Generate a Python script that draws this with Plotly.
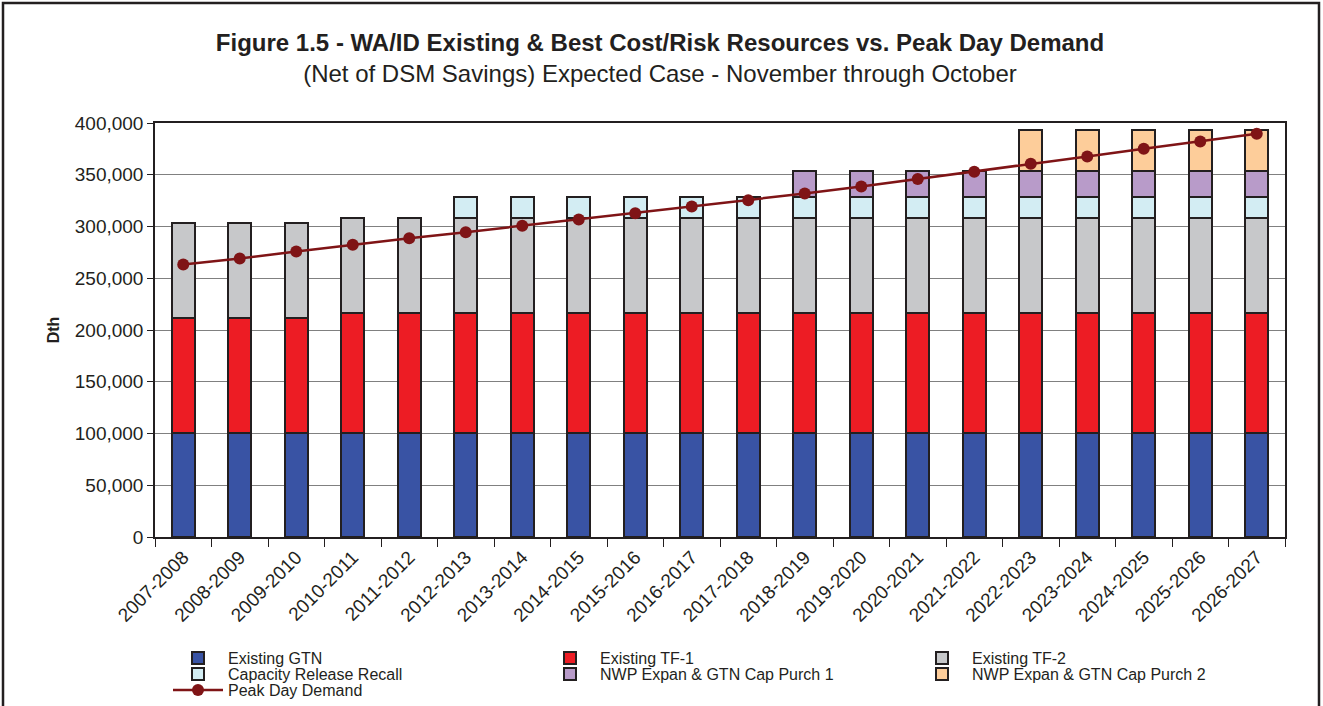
import plotly.graph_objects as go

years = ["2007-2008", "2008-2009", "2009-2010", "2010-2011", "2011-2012",
         "2012-2013", "2013-2014", "2014-2015", "2015-2016", "2016-2017",
         "2017-2018", "2018-2019", "2019-2020", "2020-2021", "2021-2022",
         "2022-2023", "2023-2024", "2024-2025", "2025-2026", "2026-2027"]

existing_gtn = [100500] * 20
existing_tf1 = [111000, 111000, 111000] + [116000] * 17
existing_tf2 = [92000] * 20
cap_release = [0] * 5 + [20000] * 15
nwp_1 = [0] * 11 + [25000] * 9
nwp_2 = [0] * 15 + [40000] * 5
peak_demand = [263200, 269000, 275800, 282300, 288700, 294500, 300700, 306800,
               312900, 319300, 325400, 331900, 338700, 345800, 352900, 360600,
               367700, 375100, 382200, 389600]

# (name, values, colour, legend row)
bar_series = [
    ("Existing GTN", existing_gtn, "#3953A4", "legend"),
    ("Existing TF-1", existing_tf1, "#ED1C24", "legend"),
    ("Existing TF-2", existing_tf2, "#C7C8CA", "legend"),
    ("Capacity Release Recall", cap_release, "#D3EDF3", "legend2"),
    ("NWP Expan & GTN Cap Purch 1", nwp_1, "#B89BC9", "legend2"),
    ("NWP Expan & GTN Cap Purch 2", nwp_2, "#FDCD9A", "legend2"),
]

fig = go.Figure()
for name, vals, colour, leg in bar_series:
    fig.add_trace(go.Bar(
        x=years, y=[v if v else None for v in vals], name=name, legend=leg,
        marker=dict(color=colour, line=dict(color="#231F20", width=2)),
    ))

fig.add_trace(go.Scatter(
    x=years, y=peak_demand, name="Peak Day Demand", mode="lines+markers",
    legend="legend3",
    line=dict(color="#7F1416", width=2.5),
    marker=dict(color="#7F1416", size=12),
))

# plot area in pixels
L, R, T, B = 155, 38, 123, 169
pw, ph = 1323 - L - R, 706 - T - B


def legend_row(ypix):
    return dict(
        orientation="h", x=(168 - L) / pw, xanchor="left",
        y=-(ypix - 537) / ph, yanchor="middle",
        entrywidth=307, entrywidthmode="pixels", traceorder="normal",
        font=dict(size=16), tracegroupgap=0, itemwidth=50,
        bgcolor="rgba(0,0,0,0)",
    )


fig.update_layout(
    width=1323, height=706,
    barmode="stack", bargap=0.6,
    paper_bgcolor="white", plot_bgcolor="white",
    font=dict(family="Liberation Sans, Arial", size=19, color="#231F20"),
    margin=dict(l=L, r=R, t=T, b=B, autoexpand=False),
    title=dict(
        text="<b>Figure 1.5 - WA/ID Existing & Best Cost/Risk Resources vs. Peak Day Demand</b>"
             "<br>(Net of DSM Savings) Expected Case - November through October",
        x=(660 - L) / pw, xref="paper", xanchor="center", y=0.928, yanchor="top",
        font=dict(size=24, color="#231F20"),
    ),
    legend=legend_row(658),
    legend2=legend_row(674),
    legend3=legend_row(690),
    showlegend=True,
    shapes=[dict(type="rect", xref="paper", yref="paper",
                 x0=(3 - L) / pw, x1=(1319 - L) / pw,
                 y0=-1.0, y1=(537 - 3) / ph,
                 line=dict(color="#231F20", width=2.5), layer="below")],
)

fig.update_xaxes(
    type="category", range=[-0.5, len(years) - 0.5], tickangle=-45,
    showline=True, linecolor="#231F20", linewidth=1.5,
    mirror=True, ticks="outside", tickson="boundaries", ticklen=8, tickcolor="#231F20",
    tickfont=dict(size=19), automargin=False,
)
fig.update_yaxes(
    range=[0, 400000], dtick=50000, tickformat=",", showgrid=True, gridcolor="#808080",
    gridwidth=1.2, showline=True, linecolor="#231F20", linewidth=1.5, mirror=True,
    ticks="outside", ticklen=6, tickcolor="#231F20", tickfont=dict(size=19),
    title=dict(text="<b>Dth</b>", font=dict(size=16), standoff=11),
    zeroline=False, automargin=False,
)

fig.write_html("out.html", post_script="document.body.style.margin='0';",
               config={"displayModeBar": False})
